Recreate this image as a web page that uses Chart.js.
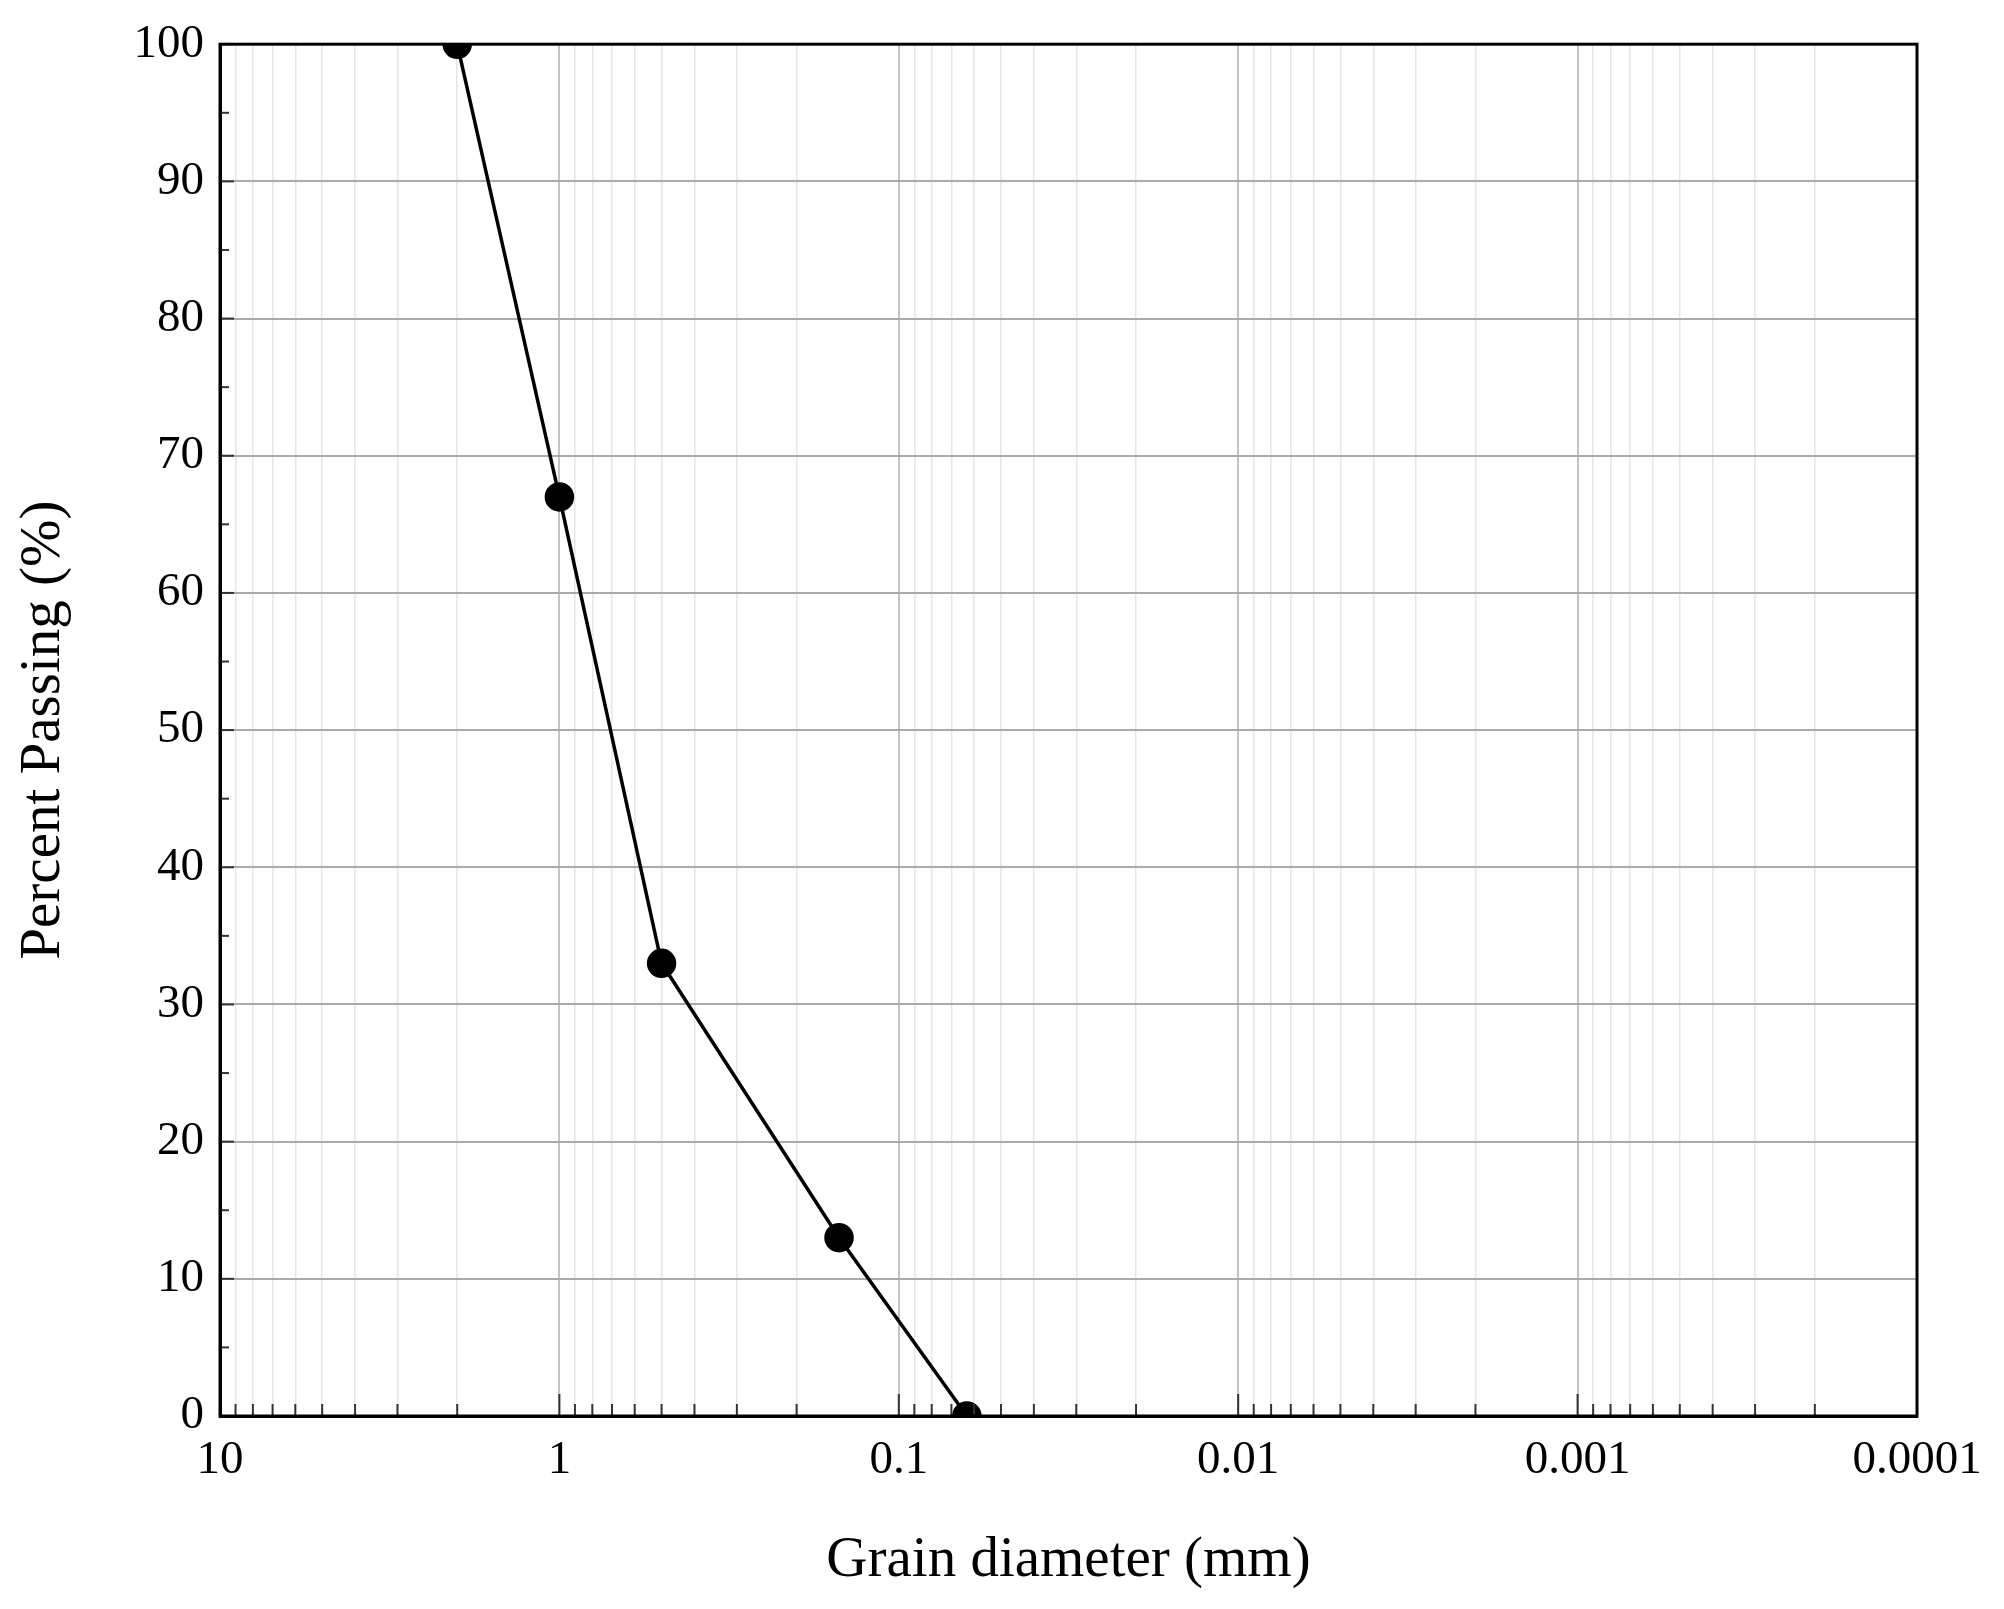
<!DOCTYPE html>
<html><head><meta charset="utf-8">
<script src="https://cdn.jsdelivr.net/npm/chart.js@4"></script>
<style>html,body{margin:0;padding:0;background:#fff}#w{width:2004px;height:1609px}</style>
</head><body><div id="w"><canvas id="c"></canvas></div>
<script>
const grainDiameter = [2, 1, 0.5, 0.15, 0.063];
const percentPassing = [100, 67, 33, 13, 0];
const decadeLabels = [10, 1, 0.1, 0.01, 0.001, 0.0001];
const yTicks = [0,10,20,30,40,50,60,70,80,90,100];

const font = 'Liberation Serif';
const inwardTicks = {
  id:'inwardTicks',
  afterDraw(ch){
    const {ctx, chartArea:a, scales:{x,y}} = ch;
    ctx.save(); ctx.strokeStyle='#333'; ctx.lineWidth=2;
    x.ticks.forEach(t=>{
      const px=x.getPixelForValue(t.value);
      const major=decadeLabels.some(d=>Math.abs(Math.log10(t.value)-Math.log10(d))<1e-6);
      const len=major?22:12;
      ctx.beginPath();ctx.moveTo(px,a.bottom);ctx.lineTo(px,a.bottom-len);ctx.stroke();
    });
    for(let v=0;v<=100;v+=5){
      const py=y.getPixelForValue(v); const len=v%10===0?14:9;
      ctx.beginPath();ctx.moveTo(a.left,py);ctx.lineTo(a.left+len,py);ctx.stroke();
    }
    ctx.restore();
  }
};
const xTickVals=[];
for(let e=-4;e<=0;e++) for(let m=1;m<=9;m++) xTickVals.push(m*Math.pow(10,e));
xTickVals.push(10);
const isDecade=v=>Math.abs(Math.log10(v)-Math.round(Math.log10(v)))<1e-6;

new Chart(document.getElementById('c'),{
  type:'line',
  data:{datasets:[{data:grainDiameter.map((d,i)=>({x:d,y:percentPassing[i]})),
    borderColor:'#000',backgroundColor:'#000',borderWidth:3.5,pointRadius:13,pointHoverRadius:13,tension:0}]},
  options:{responsive:true,maintainAspectRatio:false,animation:false,
    layout:{padding:{top:42,right:87,left:0,bottom:0}},
    plugins:{legend:{display:false},tooltip:{enabled:false}},
    scales:{
      x:{type:'logarithmic',min:0.0001,max:10,reverse:true,
        afterBuildTicks(s){s.ticks=xTickVals.map(v=>({value:v}));},
        afterFit(s){s.height=193;},
        ticks:{autoSkip:false,maxRotation:0,color:'#000',font:{family:font,size:47},padding:16,
          callback:(v)=>isDecade(v)?String(Number(v.toPrecision(1))):''},
        grid:{drawTicks:false,color:c=>c.tick&&isDecade(c.tick.value)?'#c4c4c4':'#e6e6e6',lineWidth:c=>c.tick&&isDecade(c.tick.value)?2:1.5},
        border:{color:'#000',width:3},
        title:{display:true,text:'Grain diameter (mm)',color:'#000',font:{family:font,size:57},padding:{top:0,bottom:14}}
      },
      y:{min:0,max:100,
        afterBuildTicks(s){s.ticks=yTicks.map(v=>({value:v}));},
        afterFit(s){s.width=220;},
        ticks:{color:'#000',font:{family:font,size:47},padding:16},
        grid:{drawTicks:false,color:'#aaa',lineWidth:2},
        border:{color:'#000',width:3},
        title:{display:true,text:'Percent Passing (%)',color:'#000',font:{family:font,size:57},padding:{top:10,bottom:4}}
      }
    }
  },
  plugins:[inwardTicks,{id:'frame',afterDraw(ch){const{ctx,chartArea:a}=ch;ctx.save();ctx.strokeStyle='#000';ctx.lineWidth=3;ctx.strokeRect(a.left,a.top,a.right-a.left,a.bottom-a.top);ctx.restore();}}]
});
</script></body></html>
